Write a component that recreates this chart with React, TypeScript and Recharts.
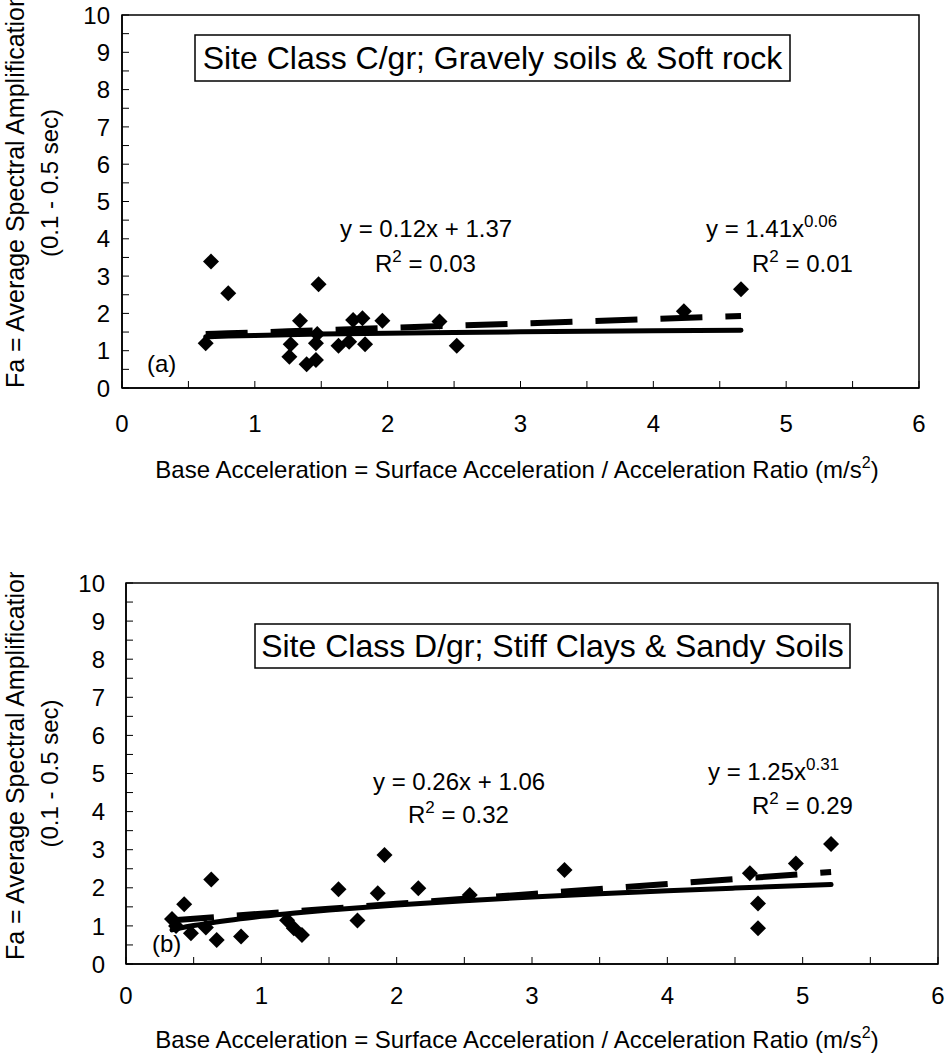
import React from 'react';
import { ScatterChart, Scatter, XAxis, YAxis, ReferenceArea } from 'recharts';

const FONT = '"Liberation Sans", Arial, Helvetica, sans-serif';

// (a) Site Class C/gr - base acceleration (m/s2) and Fa
const aBase = [0.63, 0.67, 0.80, 1.26, 1.27, 1.34, 1.39, 1.46, 1.46, 1.47, 1.48, 1.63, 1.71, 1.74, 1.81, 1.83, 1.96, 2.39, 2.52, 4.23, 4.66];
const aFa = [1.20, 3.39, 2.54, 0.84, 1.17, 1.80, 0.64, 0.75, 1.20, 1.45, 2.78, 1.13, 1.24, 1.82, 1.87, 1.17, 1.80, 1.78, 1.13, 2.06, 2.65];

// (b) Site Class D/gr
const bBase = [0.34, 0.37, 0.43, 0.48, 0.59, 0.63, 0.67, 0.85, 1.19, 1.24, 1.30, 1.57, 1.71, 1.86, 1.91, 2.16, 2.54, 3.24, 4.61, 4.67, 4.67, 4.95, 5.21];
const bFa = [1.18, 1.00, 1.57, 0.81, 0.96, 2.22, 0.63, 0.72, 1.15, 0.94, 0.76, 1.96, 1.14, 1.86, 2.86, 1.99, 1.81, 2.47, 2.38, 1.59, 0.94, 2.64, 3.15];

// trend line sample positions (x) and printed fit coefficients
const aTrendX = [0.63, 0.7, 0.8, 1, 1.25, 1.5, 2, 2.5, 3, 3.5, 4, 4.66];
const bTrendX = [0.34, 0.4, 0.5, 0.6, 0.75, 1, 1.25, 1.5, 2, 2.5, 3, 3.5, 4, 4.5, 5.21];
const aLinear = [0.12, 1.37];
const aPower = [1.41, 0.06];
const bLinear = [0.26, 1.06];
const bPower = [1.25, 0.31];

const xTicks = [0, 0.5, 1, 1.5, 2, 2.5, 3, 3.5, 4, 4.5, 5, 5.5, 6];
const yTicks = [0, 0.5, 1, 1.5, 2, 2.5, 3, 3.5, 4, 4.5, 5, 5.5, 6, 6.5, 7, 7.5, 8, 8.5, 9, 9.5, 10];

const toPoints = (xs: number[], ys: number[]) => xs.map((x, i) => ({ x, y: ys[i] }));
const linearFit = (xs: number[], [m, c]: number[]) => xs.map((x) => ({ x, y: m * x + c }));
const powerFit = (xs: number[], [a, b]: number[]) => xs.map((x) => ({ x, y: a * Math.pow(x, b) }));

const Diamond = (props: any) => {
  const { cx, cy } = props;
  if (cx == null || cy == null) return <g />;
  const r = 8;
  return <polygon points={`${cx},${cy - r} ${cx + r},${cy} ${cx},${cy + r} ${cx - r},${cy}`} fill="#000" />;
};

const Nothing = () => <g />;

const YTick = (props: any) => {
  const { x, y, payload } = props;
  if (!Number.isInteger(payload.value)) return <g />;
  return (
    <text x={x} y={y} dy="0.36em" textAnchor="end" fontSize={24} fill="#000" fontFamily={FONT}>
      {payload.value}
    </text>
  );
};

const XTick = (props: any) => {
  const { x, y, payload } = props;
  if (!Number.isInteger(payload.value)) return <g />;
  return (
    <text x={x} y={y} dy="0.71em" textAnchor="middle" fontSize={24} fill="#000" fontFamily={FONT}>
      {payload.value}
    </text>
  );
};

const Sup = ({ base, sup, rest, size = 17 }: { base: string; sup: string; rest?: string; size?: number }) => (
  <>
    <tspan>{base}</tspan>
    <tspan dy={-10} fontSize={size}>{sup}</tspan>
    {rest ? <tspan dy={10}>{rest}</tspan> : null}
  </>
);

type PanelProps = {
  top: number;
  height: number;
  pad: number;
  margin: { top: number; right: number; bottom: number; left: number };
  yTickMargin: number;
  xTickMargin: number;
  points: { x: number; y: number }[];
  lin: { x: number; y: number }[];
  pow: { x: number; y: number }[];
  children: React.ReactNode;
};

const Panel = ({ top, height, pad, margin, yTickMargin, xTickMargin, points, lin, pow, children }: PanelProps) => (
  <>
    <div style={{ position: 'absolute', left: 0, top: top - pad, width: 949, height: height + pad }}>
      <ScatterChart width={949} height={height + pad} margin={{ ...margin, top: margin.top + pad }}>
        <XAxis
          type="number"
          dataKey="x"
          domain={[0, 6]}
          ticks={xTicks}
          interval={0}
          height={50}
          tickSize={-7}
          tickMargin={xTickMargin}
          tick={<XTick />}
          axisLine={{ stroke: '#000', strokeWidth: 1.5 }}
          tickLine={{ stroke: '#000', strokeWidth: 1 }}
          allowDataOverflow
        />
        <YAxis
          type="number"
          dataKey="y"
          domain={[0, 10]}
          ticks={yTicks}
          interval={0}
          width={60}
          tickSize={-7}
          tickMargin={yTickMargin}
          tick={<YTick />}
          axisLine={{ stroke: '#000', strokeWidth: 1.5 }}
          tickLine={{ stroke: '#000', strokeWidth: 1 }}
          allowDataOverflow
        />
        <ReferenceArea x1={0} x2={6} y1={0} y2={10} fill="none" stroke="#000" strokeWidth={1.5} fillOpacity={0} />
        <Scatter data={points} shape={<Diamond />} isAnimationActive={false} />
        <Scatter
          data={lin}
          shape={<Nothing />}
          line={{ stroke: '#000', strokeWidth: 6, strokeDasharray: '42 23' }}
          lineJointType="linear"
          isAnimationActive={false}
        />
        <Scatter
          data={pow}
          shape={<Nothing />}
          line={{ stroke: '#000', strokeWidth: 5, strokeLinecap: 'round' }}
          lineJointType="monotoneX"
          isAnimationActive={false}
        />
      </ScatterChart>
    </div>
    <svg
      width={949}
      height={height}
      style={{ position: 'absolute', left: 0, top, pointerEvents: 'none', overflow: 'hidden' }}
      fontFamily={FONT}
      fill="#000"
    >
      {children}
    </svg>
  </>
);

const YTitle = ({ secCenter }: { secCenter: number }) => (
  <>
    <text transform="rotate(-90)" x={-388} y={24} fontSize={25}>
      Fa = Average Spectral Amplification
    </text>
    <text transform="rotate(-90)" x={-secCenter} y={58} fontSize={24} textAnchor="middle">
      (0.1 - 0.5 sec)
    </text>
  </>
);

const XTitle = ({ y }: { y: number }) => (
  <text x={517} y={y} fontSize={24} textAnchor="middle">
    <Sup base="Base Acceleration = Surface Acceleration / Acceleration Ratio (m/s" sup="2" rest=")" size={16} />
  </text>
);

export default function App() {
  return (
    <div style={{ position: 'absolute', left: 0, top: 0, width: 949, height: 1064, background: '#fff' }}>
      <Panel
        top={0}
        height={500}
        pad={0}
        margin={{ top: 15, right: 30, bottom: 62, left: 62 }}
        yTickMargin={19}
        xTickMargin={34}
        points={toPoints(aBase, aFa)}
        lin={linearFit(aTrendX, aLinear)}
        pow={powerFit(aTrendX, aPower)}
      >
        <YTitle secCenter={183} />
        <XTitle y={478} />
        <rect x={195} y={35} width={595} height={46} fill="#fff" stroke="#000" strokeWidth={1.5} />
        <text x={492.5} y={69} fontSize={32} textAnchor="middle">
          Site Class C/gr; Gravely soils &amp; Soft rock
        </text>
        <text x={340} y={237} fontSize={24}>y = 0.12x + 1.37</text>
        <text x={375} y={272} fontSize={24}>
          <Sup base="R" sup="2" rest=" = 0.03" />
        </text>
        <text x={706} y={237} fontSize={24}>
          <Sup base="y = 1.41x" sup="0.06" />
        </text>
        <text x={752} y={272} fontSize={24}>
          <Sup base="R" sup="2" rest=" = 0.01" />
        </text>
        <text x={147} y={372} fontSize={24}>(a)</text>
      </Panel>
      <Panel
        top={572}
        height={492}
        pad={12}
        margin={{ top: 11, right: 11, bottom: 50, left: 66 }}
        yTickMargin={28}
        xTickMargin={30}
        points={toPoints(bBase, bFa)}
        lin={linearFit(bTrendX, bLinear)}
        pow={powerFit(bTrendX, bPower)}
      >
        <YTitle secCenter={201.5} />
        <XTitle y={476} />
        <rect x={255} y={52} width={595} height={44} fill="#fff" stroke="#000" strokeWidth={1.5} />
        <text x={552.5} y={85} fontSize={32} textAnchor="middle">
          Site Class D/gr; Stiff Clays &amp; Sandy Soils
        </text>
        <text x={373} y={218} fontSize={24}>y = 0.26x + 1.06</text>
        <text x={408} y={251} fontSize={24}>
          <Sup base="R" sup="2" rest=" = 0.32" />
        </text>
        <text x={708} y={208} fontSize={24}>
          <Sup base="y = 1.25x" sup="0.31" />
        </text>
        <text x={752} y={242} fontSize={24}>
          <Sup base="R" sup="2" rest=" = 0.29" />
        </text>
        <text x={152} y={380} fontSize={24}>(b)</text>
      </Panel>
    </div>
  );
}
